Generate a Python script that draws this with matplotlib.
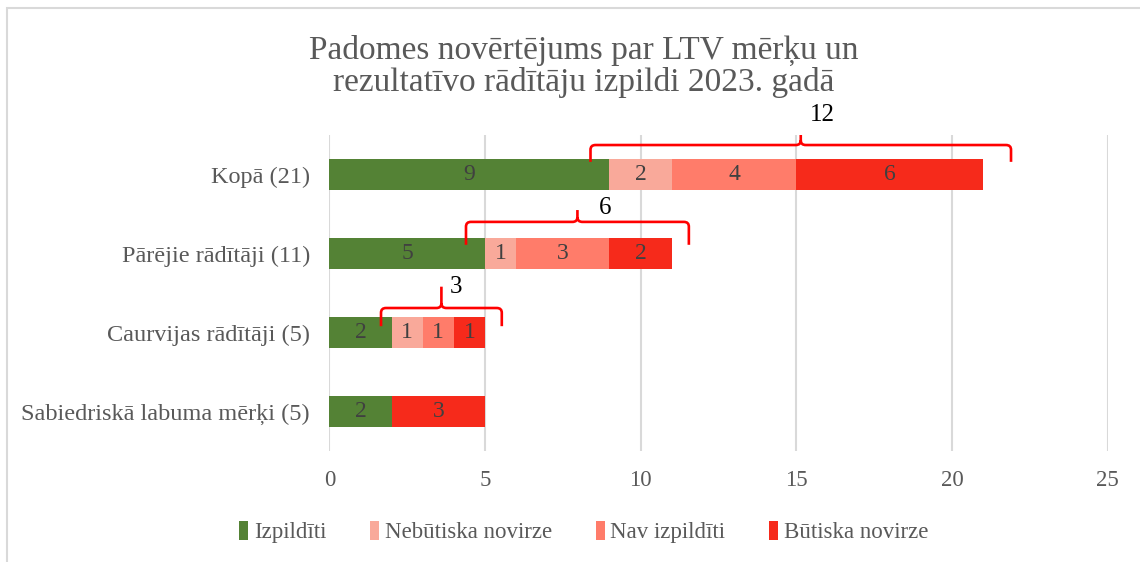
import numpy as np
import matplotlib.pyplot as plt
from matplotlib.path import Path
from matplotlib.patches import PathPatch, Rectangle

plt.rcParams['font.family'] = ['Liberation Serif', 'DejaVu Serif']

title = "Padomes novērtējums par LTV mērķu un\nrezultatīvo rādītāju izpildi 2023. gadā"
categories = ["Sabiedriskā labuma mērķi (5)", "Caurvijas rādītāji (5)",
              "Pārējie rādītāji (11)", "Kopā (21)"]
series_names = ["Izpildīti", "Nebūtiska novirze", "Nav izpildīti", "Būtiska novirze"]
izpilditi = [2, 2, 5, 9]
nebutiska = [0, 1, 1, 2]
nav_izpilditi = [0, 1, 3, 4]
butiska = [3, 1, 2, 6]
colors = ["#548235", "#F9A99A", "#FF7C6A", "#F62A1B"]

# braces: (category index, left x, right x, label)
braces = [(3, 8.39, 21.9, "12"), (2, 4.39, 11.55, "6"), (1, 1.66, 5.54, "3")]


def draw_brace(ax, y, x0, x1, yb, yh, yp, rx=0.16, ry=0.06):
    xm = (x0 + x1) / 2
    verts = [(x0, y + yb), (x0, y + yh - ry), (x0, y + yh), (x0 + rx, y + yh),
             (xm - rx, y + yh), (xm, y + yh), (xm, y + yh + ry), (xm, y + yp),
             (xm, y + yh + ry), (xm, y + yh), (xm + rx, y + yh),
             (x1 - rx, y + yh), (x1, y + yh), (x1, y + yh - ry), (x1, y + yb)]
    codes = [Path.MOVETO, Path.LINETO, Path.CURVE3, Path.CURVE3,
             Path.LINETO, Path.CURVE3, Path.CURVE3, Path.LINETO,
             Path.MOVETO, Path.CURVE3, Path.CURVE3,
             Path.LINETO, Path.CURVE3, Path.CURVE3, Path.LINETO]
    ax.add_patch(PathPatch(Path(verts, codes), fill=False, edgecolor="#FF0000",
                           linewidth=1.9, capstyle="butt", zorder=5))
    return xm


fig = plt.figure(figsize=(11.4, 5.62), dpi=100)
ax = fig.add_axes([0.2889, 0.1975, 0.6826, 0.5623])

# outer chart frame
fig.patches.append(Rectangle((7 / 1140, -0.1), 1.2, 1 - 8 / 562 + 0.1,
                             transform=fig.transFigure, fill=False,
                             edgecolor="#D9D9D9", linewidth=1.5))

y = np.arange(len(categories))
left = np.zeros(len(categories))
for vals, name, col in zip([izpilditi, nebutiska, nav_izpilditi, butiska],
                           series_names, colors):
    vals = np.array(vals, dtype=float)
    ax.barh(y, vals, left=left, height=0.39, color=col, label=name, zorder=3)
    for yi, l, v in zip(y, left, vals):
        if v > 0:
            ax.text(l + v / 2, yi, f"{int(v)}", ha="center", va="center",
                    fontsize=17, color="#404040", zorder=4)
    left += vals

for ci, x0, x1, lab in braces:
    if ci == 3:
        draw_brace(ax, ci, x0, x1, 0.16, 0.373, 0.60)
        ax.text(15.83, ci + 0.75, lab, ha="center", va="center", fontsize=18,
                color="black")
    elif ci == 2:
        draw_brace(ax, ci, x0, x1, 0.11, 0.40, 0.55)
        ax.text(8.85, ci + 0.58, lab, ha="center", va="center", fontsize=18,
                color="black")
    else:
        draw_brace(ax, ci, x0, x1, 0.08, 0.31, 0.58)
        ax.text(4.07, ci + 0.58, lab, ha="center", va="center", fontsize=18,
                color="black")

ax.set_xlim(0, 25)
ax.set_ylim(-0.5, 3.5)
ax.set_xticks([0, 5, 10, 15, 20, 25])
ax.set_yticks(y)
ax.set_yticklabels(categories)
ax.tick_params(axis="both", length=0, colors="#595959")
ax.tick_params(axis="x", pad=14, labelsize=16.5)
ax.tick_params(axis="y", pad=14, labelsize=17.5)
ax.grid(axis="x", color="#D9D9D9", linewidth=1.5, zorder=0)
for s in ax.spines.values():
    s.set_visible(False)

fig.text(0.512, 0.882, title, ha="center", va="center", fontsize=24,
         color="#595959", linespacing=1.05)

fig.legend(loc="center", bbox_to_anchor=(0.512, 0.053), ncol=4, frameon=False,
           fontsize=16.5, labelcolor="#595959", handlelength=0.4,
           handleheight=0.9, handletextpad=0.25, columnspacing=1.9)

fig.savefig("out.png", dpi=100)
